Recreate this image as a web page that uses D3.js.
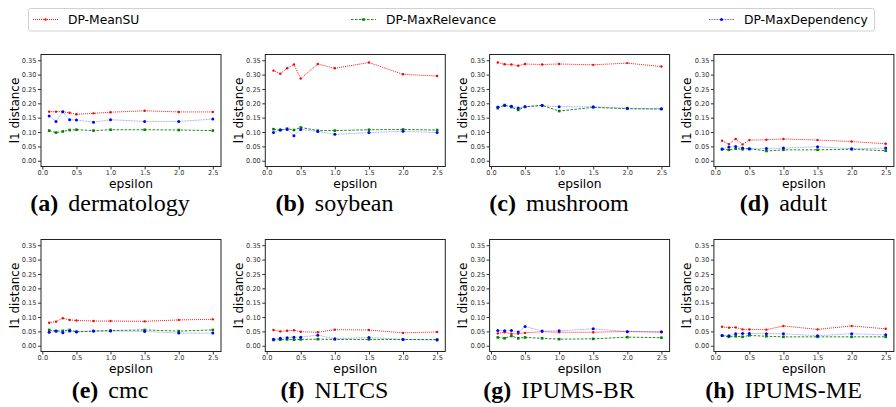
<!DOCTYPE html>
<html>
<head>
<meta charset="utf-8">
<script src="https://cdn.jsdelivr.net/npm/d3@7"></script>
<style>
    body { margin: 0; background: #fff; }
</style>
</head>
<body>
<svg id="drawing_region"></svg>
<script>
// epsilon values on the x axis
const epsilons = [0.1, 0.2, 0.3, 0.4, 0.5, 0.75, 1.0, 1.5, 2.0, 2.5];

const datasets = ["dermatology", "soybean", "mushroom", "adult", "cmc", "NLTCS", "IPUMS-BR", "IPUMS-ME"];
const letters  = ["a", "b", "c", "d", "e", "f", "g", "h"];

const methods = ["DP-MeanSU", "DP-MaxRelevance", "DP-MaxDependency"];

const xticks = [0.0, 0.5, 1.0, 1.5, 2.0, 2.5];
const yticks = [0.00, 0.05, 0.10, 0.15, 0.20, 0.25, 0.30, 0.35];

// one row per dataset, same order as datasets
const meanSU = [
    [0.171, 0.171, 0.171, 0.167, 0.162, 0.165, 0.169, 0.174, 0.170, 0.170],
    [0.314, 0.303, 0.322, 0.335, 0.286, 0.337, 0.322, 0.342, 0.301, 0.295],
    [0.342, 0.336, 0.335, 0.331, 0.337, 0.335, 0.337, 0.334, 0.340, 0.328],
    [0.070, 0.058, 0.076, 0.057, 0.072, 0.073, 0.076, 0.072, 0.067, 0.059],
    [0.080, 0.084, 0.096, 0.090, 0.088, 0.086, 0.086, 0.085, 0.090, 0.092],
    [0.055, 0.050, 0.052, 0.054, 0.049, 0.047, 0.056, 0.055, 0.045, 0.048],
    [0.043, 0.047, 0.042, 0.042, 0.045, 0.049, 0.047, 0.047, 0.050, 0.047],
    [0.066, 0.063, 0.064, 0.057, 0.057, 0.056, 0.069, 0.057, 0.069, 0.059]
];

const maxRelevance = [
    [0.105, 0.098, 0.102, 0.107, 0.108, 0.105, 0.108, 0.108, 0.107, 0.105],
    [0.110, 0.106, 0.112, 0.107, 0.116, 0.105, 0.105, 0.108, 0.109, 0.107],
    [0.183, 0.194, 0.187, 0.177, 0.188, 0.193, 0.173, 0.186, 0.181, 0.180],
    [0.040, 0.038, 0.042, 0.040, 0.042, 0.034, 0.038, 0.038, 0.040, 0.035],
    [0.055, 0.051, 0.052, 0.055, 0.049, 0.051, 0.053, 0.055, 0.051, 0.055],
    [0.020, 0.021, 0.022, 0.021, 0.022, 0.023, 0.022, 0.022, 0.022, 0.022],
    [0.029, 0.026, 0.034, 0.026, 0.029, 0.026, 0.023, 0.024, 0.030, 0.028],
    [0.035, 0.031, 0.033, 0.031, 0.036, 0.033, 0.031, 0.031, 0.031, 0.031]
];

const maxDependency = [
    [0.156, 0.137, 0.171, 0.143, 0.142, 0.134, 0.143, 0.137, 0.137, 0.145],
    [0.098, 0.108, 0.109, 0.087, 0.109, 0.102, 0.092, 0.098, 0.103, 0.098],
    [0.187, 0.192, 0.190, 0.184, 0.188, 0.192, 0.188, 0.188, 0.183, 0.181],
    [0.041, 0.048, 0.050, 0.044, 0.041, 0.043, 0.044, 0.049, 0.042, 0.044],
    [0.047, 0.051, 0.045, 0.051, 0.048, 0.051, 0.051, 0.050, 0.044, 0.044],
    [0.023, 0.026, 0.028, 0.030, 0.030, 0.037, 0.024, 0.029, 0.022, 0.020],
    [0.053, 0.052, 0.053, 0.048, 0.067, 0.051, 0.052, 0.059, 0.049, 0.049],
    [0.036, 0.035, 0.042, 0.043, 0.043, 0.042, 0.042, 0.035, 0.042, 0.038]
];

const styles = [
    {color: "#ff0000", dash: "1,1",     marker: "circle", size: 1.2, opacity: 0.9},
    {color: "#008000", dash: "2.5,1.5", marker: "square", size: 2.6, opacity: 0.9},
    {color: "#0000ff", dash: "1,0.6",   marker: "circle", size: 1.5, opacity: 0.35}
];

const sans = '"DejaVu Sans", sans-serif';
const serif = '"Liberation Serif", "DejaVu Serif", serif';

const svg = d3.select('#drawing_region')
    .attr('width', 896)
    .attr('height', 407);

class SmallChart {

    constructor( config, series ) {
        this.config = config;
        this.series = series;
        this.init();
    }

    init() {
        let self = this;

        self.chart = svg.append('g')
            .attr('transform', `translate(${self.config.left}, ${self.config.top})`);

        self.xscale = d3.scaleLinear()
            .domain([-0.02, 2.62])
            .range([0, self.config.width]);

        self.yscale = d3.scaleLinear()
            .domain([-0.02, 0.37])
            .range([self.config.height, 0]);

        self.xaxis = d3.axisBottom(self.xscale)
            .tickValues(xticks)
            .tickFormat(d3.format('.1f'))
            .tickSize(3)
            .tickPadding(1)
            .tickSizeOuter(0);

        self.yaxis = d3.axisLeft(self.yscale)
            .tickValues(yticks)
            .tickFormat(d3.format('.2f'))
            .tickSize(3)
            .tickPadding(1.5)
            .tickSizeOuter(0);
    }

    render() {
        let self = this;
        const w = self.config.width, h = self.config.height;

        self.series.forEach( (values, i) => {
            const st = styles[i];
            const pts = values.map( (v, k) => ({x: epsilons[k], y: v}) );

            const line = d3.line()
                .x( d => self.xscale(d.x) )
                .y( d => self.yscale(d.y) );

            self.chart.append('path')
                .attr('d', line(pts))
                .attr('fill', 'none')
                .attr('stroke', st.color)
                .attr('stroke-width', 1)
                .attr('stroke-opacity', st.opacity)
                .attr('stroke-dasharray', st.dash);

            if (st.marker == "square") {
                self.chart.selectAll(null)
                    .data(pts)
                    .enter()
                    .append('rect')
                    .attr('x', d => self.xscale(d.x) - st.size/2)
                    .attr('y', d => self.yscale(d.y) - st.size/2)
                    .attr('width', st.size)
                    .attr('height', st.size)
                    .attr('fill', st.color);
            } else {
                self.chart.selectAll(null)
                    .data(pts)
                    .enter()
                    .append('circle')
                    .attr('cx', d => self.xscale(d.x))
                    .attr('cy', d => self.yscale(d.y))
                    .attr('r', st.size)
                    .attr('fill', st.color);
            }
        });

        self.chart.append('rect')
            .attr('width', w)
            .attr('height', h)
            .attr('fill', 'none')
            .attr('stroke', '#222')
            .attr('stroke-width', 1);

        const xg = self.chart.append('g')
            .attr('transform', `translate(0, ${h})`)
            .call(self.xaxis);
        const yg = self.chart.append('g')
            .call(self.yaxis);

        [xg, yg].forEach( g => {
            g.attr('font-family', sans).attr('font-size', 6.6);
            g.select('.domain').remove();
            g.selectAll('.tick line').attr('stroke', '#333');
            g.selectAll('.tick text').attr('fill', '#333');
        });

        self.chart.append('text')
            .attr('x', w/2)
            .attr('y', h + 21)
            .attr('text-anchor', 'middle')
            .attr('font-family', sans)
            .attr('font-size', '12.3px')
            .attr('fill', '#000')
            .text('epsilon');

        self.chart.append('text')
            .attr('transform', 'rotate(-90)')
            .attr('x', -h/2)
            .attr('y', -22.5)
            .attr('text-anchor', 'middle')
            .attr('font-family', sans)
            .attr('font-size', '12px')
            .attr('fill', '#000')
            .text('l1 distance');

        const cap = svg.append('text')
            .attr('x', self.config.capX)
            .attr('y', self.config.capY)
            .attr('text-anchor', 'middle')
            .attr('font-family', serif)
            .attr('font-size', '24px')
            .attr('fill', '#000');
        cap.append('tspan')
            .attr('font-weight', 'bold')
            .text(`(${self.config.letter})`);
        cap.append('tspan')
            .attr('dx', 10)
            .text(self.config.name);
    }
}

datasets.forEach( (name, i) => {
    const col = i % 4, row = Math.floor(i / 4);
    const config = {
        left: 41 + col * 224.3,
        top: 54.5 + row * 185,
        width: 180,
        height: 112,
        capX: 110 + col * 224.5,
        capY: 211 + row * 187,
        letter: letters[i],
        name: name
    };
    const chart = new SmallChart( config, [meanSU[i], maxRelevance[i], maxDependency[i]] );
    chart.render();
});

// legend
const legend = svg.append('g');
legend.append('rect')
    .attr('x', 28.5)
    .attr('y', 8.5)
    .attr('width', 846)
    .attr('height', 22.5)
    .attr('rx', 2)
    .attr('fill', '#fff')
    .attr('stroke', '#d0d0d0')
    .attr('stroke-width', 1);

const legendX = [33, 351, 709];
methods.forEach( (m, i) => {
    const st = styles[i];
    const g = legend.append('g')
        .attr('transform', `translate(${legendX[i]}, 19.5)`);
    g.append('line')
        .attr('x1', 0).attr('x2', 25)
        .attr('stroke', st.color)
        .attr('stroke-width', 1)
        .attr('stroke-opacity', i == 2 ? 0.6 : 0.9)
        .attr('stroke-dasharray', st.dash);
    if (st.marker == "square") {
        g.append('rect')
            .attr('x', 12.5 - st.size/2).attr('y', -st.size/2)
            .attr('width', st.size).attr('height', st.size)
            .attr('fill', st.color);
    } else {
        g.append('circle')
            .attr('cx', 12.5).attr('r', st.size)
            .attr('fill', st.color);
    }
    g.append('text')
        .attr('x', 35)
        .attr('y', 4.3)
        .attr('font-family', sans)
        .attr('font-size', '12.3px')
        .attr('fill', '#000')
        .text(m);
});
</script>
</body>
</html>
